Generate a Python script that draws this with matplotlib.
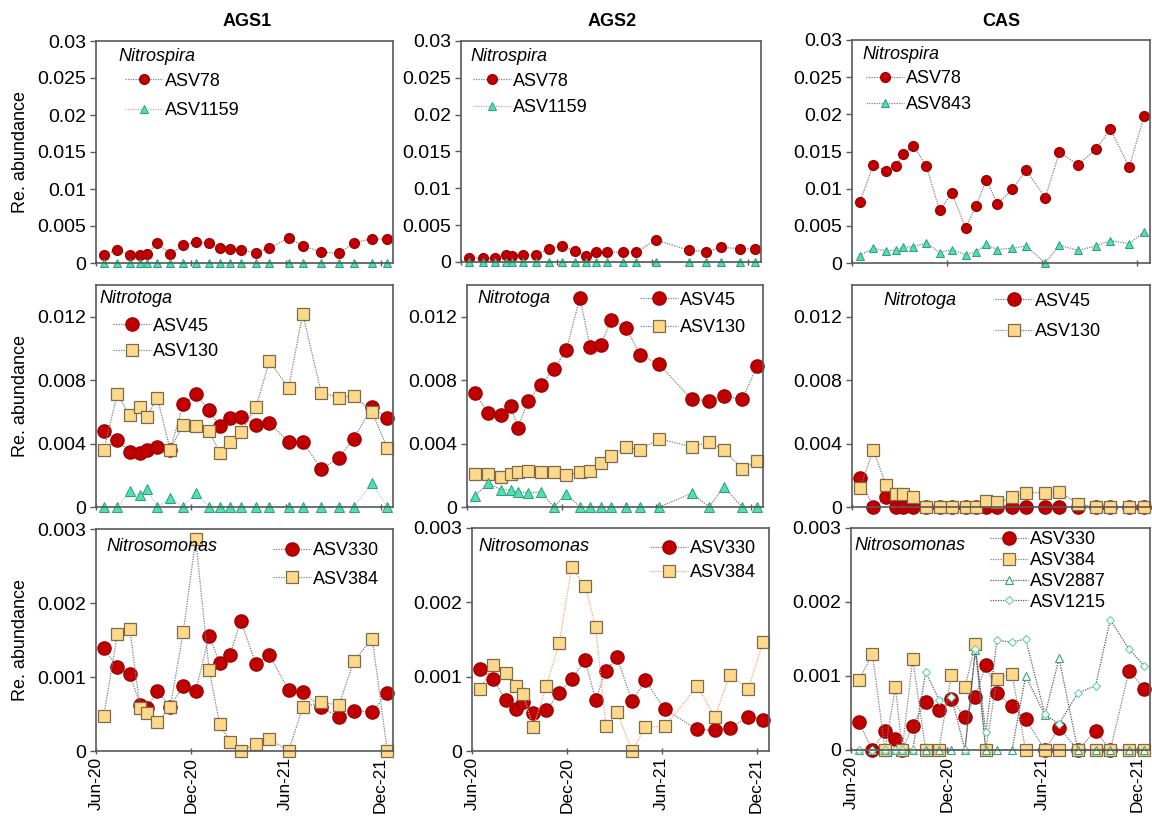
import matplotlib
matplotlib.use('Agg')
import matplotlib.pyplot as plt
import matplotlib.dates as mdates
from matplotlib.ticker import FuncFormatter
import pandas as pd

plt.rcParams['font.family'] = ['Liberation Sans', 'DejaVu Sans']

# sampling dates (AGS2 has no sample on 2021-07-04)
dates = ['2020-06-16', '2020-07-12', '2020-08-05', '2020-08-25', '2020-09-07', '2020-09-27',
         '2020-10-22', '2020-11-16', '2020-12-10', '2021-01-05', '2021-01-25', '2021-02-14',
         '2021-03-07', '2021-04-05', '2021-05-01', '2021-06-07', '2021-07-04', '2021-08-09',
         '2021-09-12', '2021-10-10', '2021-11-15', '2021-12-14']
dates_ags2 = [d for d in dates if d != '2021-07-04']

# ---- AGS1 ----
ags1_asv78 = [0.0011, 0.0018, 0.0011, 0.0011, 0.0012, 0.0027, 0.0012, 0.0024, 0.0028, 0.0027, 0.0020,
              0.0019, 0.0017, 0.0014, 0.0020, 0.0034, 0.0023, 0.0015, 0.0013, 0.0027, 0.0033, 0.0032]
ags1_asv1159 = [0, 0, 0, 0, 0, 0, 0, 0, 0, 0, 0, 0, 0, 0, 0, 0, 0, 0, 0, 0, 0, 0]
ags1_asv45 = [0.0048, 0.0042, 0.0035, 0.0034, 0.0036, 0.0038, 0.0036, 0.0065, 0.0071, 0.0061, 0.0051,
              0.0056, 0.0057, 0.0052, 0.0053, 0.0041, 0.0041, 0.0024, 0.0031, 0.0043, 0.0063, 0.0056]
ags1_asv130 = [0.0036, 0.0071, 0.0058, 0.0063, 0.0057, 0.0069, 0.0036, 0.0052, 0.0051, 0.0048, 0.0034,
               0.0041, 0.0047, 0.0063, 0.0092, 0.0075, 0.0122, 0.0072, 0.0069, 0.0070, 0.0060, 0.0037]
ags1_toga_other = [0, 0, 0.00103, 0.00076, 0.00112, 0, 0.00057, 0, 0.0009, 0, 0,
                   0, 0, 0, 0, 0, 0, 0, 0, 0, 0.0015, 0]
ags1_asv330 = [0.00139, 0.00113, 0.00104, 0.00062, 0.00058, 0.00081, 0.00060, 0.00088, 0.00081, 0.00156, 0.00119,
               0.00130, 0.00176, 0.00117, 0.00130, 0.00082, 0.00080, 0.00059, 0.00046, 0.00054, 0.00053, 0.00078]
ags1_asv384 = [0.00047, 0.00158, 0.00165, 0.00058, 0.00052, 0.00039, 0.00059, 0.00161, 0.00286, 0.00109, 0.00037,
               0.00012, 0, 0.00010, 0.00016, 0, 0.00059, 0.00066, 0.00062, 0.00121, 0.00152, 0]

# ---- AGS2 ----
ags2_asv78 = [0.0006, 0.0005, 0.0006, 0.0010, 0.0008, 0.0009, 0.0010, 0.0018, 0.0022, 0.0015, 0.0008,
              0.0014, 0.0014, 0.0013, 0.0013, 0.0030, 0.0016, 0.0014, 0.0020, 0.0018, 0.0018]
ags2_asv1159 = [0, 0, 0, 0, 0, 0, 0, 0, 0, 0, 0, 0, 0, 0, 0, 0, 0, 0, 0, 0, 0]
ags2_asv45 = [0.0072, 0.0059, 0.0058, 0.0064, 0.0050, 0.0067, 0.0077, 0.0087, 0.0099, 0.0132, 0.0101,
              0.0102, 0.0118, 0.0113, 0.0096, 0.0090, 0.0068, 0.0067, 0.0070, 0.0068, 0.0089]
ags2_asv130 = [0.0021, 0.0021, 0.0019, 0.0021, 0.0022, 0.0023, 0.0022, 0.0022, 0.0020, 0.0022, 0.0023,
               0.0028, 0.0032, 0.0038, 0.0036, 0.0043, 0.0038, 0.0041, 0.0036, 0.0024, 0.0029]
ags2_toga_other = [0.0007, 0.0015, 0.0011, 0.00105, 0.00094, 0.0009, 0.00094, 0, 0.00084, 0, 0,
                   0, 0, 0, 0, 0, 0.00086, 0, 0.00126, 0, 0]
ags2_asv330 = [0.0011, 0.00097, 0.00068, 0.00057, 0.00066, 0.00051, 0.00055, 0.00078, 0.00097, 0.00122, 0.00069,
               0.00108, 0.00127, 0.00067, 0.00095, 0.00056, 0.00029, 0.00028, 0.00031, 0.00046, 0.00042]
ags2_asv384 = [0.00083, 0.00116, 0.00105, 0.00088, 0.00077, 0.00032, 0.00087, 0.00145, 0.00247, 0.00222, 0.00167,
               0.00034, 0.00053, 0, 0.00032, 0.00033, 0.00087, 0.00046, 0.00102, 0.00084, 0.00147]

# ---- CAS ----
cas_asv78 = [0.0082, 0.0132, 0.0124, 0.0131, 0.0147, 0.0158, 0.0130, 0.0071, 0.0094, 0.0047, 0.0077,
             0.0112, 0.0080, 0.0099, 0.0125, 0.0088, 0.0149, 0.0132, 0.0153, 0.0180, 0.0129, 0.0198]
cas_asv843 = [0.0010, 0.0020, 0.0016, 0.0018, 0.0021, 0.0022, 0.0027, 0.0014, 0.0018, 0.0011, 0.0015,
              0.0025, 0.0018, 0.0020, 0.0023, 0, 0.0024, 0.0017, 0.0023, 0.0030, 0.0026, 0.0042]
cas_asv45 = [0.0018, 0, 0.0006, 0, 0, 0, 0, 0, 0, 0, 0, 0, 0, 0, 0, 0, 0, 0, 0, 0, 0, 0]
cas_asv130 = [0.0012, 0.0036, 0.0014, 0.0008, 0.0008, 0.0006, 0, 0, 0, 0, 0,
              0.0004, 0.0003, 0.0006, 0.0009, 0.0009, 0.00095, 0.0002, 0, 0, 0, 0]
cas_asv330 = [0.00038, 0, 0.00026, 0.00015, 0, 0.00033, 0.00065, 0.00054, 0.00069, 0.00044, 0.00072,
              0.00115, 0.00077, 0.00059, 0.00042, 0, 0.0003, 0, 0.00026, 0, 0.00107, 0.00083]
cas_asv384 = [0.00094, 0.0013, 0, 0.00085, 0, 0.00123, 0, 0, 0.00102, 0.00085, 0.00143,
              0, 0.00096, 0.00103, 0, 0, 0, 0, 0, 0, 0, 0]
cas_asv2887 = [0, 0, 0, 0, 0, 0, 0, 0, 0, 0, 0.00135,
               0, 0, 0, 0.0010, 0.00047, 0.00124, 0, 0, 0, 0, 0]
cas_asv1215 = [0, 0, 0, 0, 0, 0, 0.00106, 0.00068, 0.00072, 0, 0.00136,
               0.00024, 0.00148, 0.00146, 0.0015, 0.00048, 0.00035, 0.00077, 0.00087, 0.00176, 0.00136, 0.00114]

GREY = '#7f7f7f'
RED = dict(marker='o', mfc='#c00000', mec='#a00000')
SQ = dict(marker='s', mfc='#ffd98a', mec='#7a6b4e', mew=0.9)
TRI = dict(marker='^', mfc='#4fe0b2', mec='#2a9f7a', mew=0.7)
TRI_OPEN = dict(marker='^', mfc='#f4fbf8', mec='#3aa57e', mew=0.8)
DIA_OPEN = dict(marker='D', mfc='white', mec='#6ccfae', mew=0.8)
DOT = (0, (1, 1))

fig = plt.figure(figsize=(11.52, 8.27), dpi=100)
W, H = 1152, 827


def make_ax(left, top, right, bottom):
    return fig.add_axes([left / W, 1 - bottom / H, (right - left) / W, (bottom - top) / H])


boxes = [
    [(96, 41, 393, 263), (461, 41, 761, 262), (852, 40, 1150, 263)],
    [(96, 285, 393, 507), (467, 285, 763, 507), (852, 285, 1150, 507)],
    [(96, 529, 393, 751), (472, 528, 769, 751), (851, 528, 1150, 750)],
]
axes = [[make_ax(*b) for b in row] for row in boxes]

xmin, xmax = pd.Timestamp('2020-06-01'), pd.Timestamp('2021-12-25')
xticks = pd.to_datetime(['2020-06-01', '2020-12-01', '2021-06-01', '2021-12-01'])
ylims = [(0, 0.03), (0, 0.014), (0, 0.003)]
yticks = [[0, 0.005, 0.01, 0.015, 0.02, 0.025, 0.03],
          [0, 0.004, 0.008, 0.012],
          [0, 0.001, 0.002, 0.003]]

for r in range(3):
    for c in range(3):
        ax = axes[r][c]
        ax.set_xlim(xmin, xmax)
        ax.set_ylim(*ylims[r])
        ax.set_yticks(yticks[r])
        ax.yaxis.set_major_formatter(FuncFormatter(lambda v, p: '{:g}'.format(v)))
        ax.set_xticks(xticks)
        ax.xaxis.set_major_formatter(mdates.DateFormatter('%b-%y'))
        ax.tick_params(axis='y', labelsize=14, length=4, width=1, color='#595959', pad=3)
        ax.tick_params(axis='x', labelsize=12.5, length=5, width=1, color='#595959',
                       direction='inout', rotation=90, pad=2)
        if r < 2:
            ax.tick_params(axis='x', labelbottom=False)
        for s in ax.spines.values():
            s.set_color('#595959')
            s.set_linewidth(1.2)
        if c == 0:
            ax.set_ylabel('Re. abundance', fontsize=13)
            ax.yaxis.set_label_coords(-0.224, 0.5)


def series(ax, x, y, style, ms, label=None, color=GREY):
    ax.plot(pd.to_datetime(x), y, linestyle=DOT, color=color, lw=0.9, ms=ms,
            label=label, clip_on=False, **style)


def legend(ax, x, y, spacing=0.35):
    ax.legend(loc='upper left', bbox_to_anchor=(x, y), frameon=False, fontsize=13,
              borderpad=0, borderaxespad=0, handlelength=2.1, handletextpad=0.1,
              labelspacing=spacing)


def genus(ax, name, x, y):
    ax.text(x, y, name, transform=ax.transAxes, fontsize=13, style='italic', va='center', ha='left')


# Row 1: Nitrospira
ax = axes[0][0]
series(ax, dates, ags1_asv78, RED, 7, 'ASV78')
series(ax, dates, ags1_asv1159, TRI, 6, 'ASV1159', color='#b0b0b0')
genus(ax, 'Nitrospira', 0.074, 0.928)
legend(ax, 0.098, 0.857, 0.68)

ax = axes[0][1]
series(ax, dates_ags2, ags2_asv78, RED, 7, 'ASV78')
series(ax, dates_ags2, ags2_asv1159, TRI, 6, 'ASV1159', color='#b0b0b0')
genus(ax, 'Nitrospira', 0.033, 0.928)
legend(ax, 0.04, 0.857, 0.52)

ax = axes[0][2]
series(ax, dates, cas_asv78, RED, 7, 'ASV78')
series(ax, dates, cas_asv843, TRI, 6, 'ASV843')
genus(ax, 'Nitrospira', 0.034, 0.933)
legend(ax, 0.047, 0.866, 0.52)

# Row 2: Nitrotoga
ax = axes[1][0]
series(ax, dates, ags1_asv45, RED, 9.5, 'ASV45')
series(ax, dates, ags1_asv130, SQ, 8, 'ASV130')
series(ax, dates, ags1_toga_other, TRI, 7, color='#c8c8c8')
genus(ax, 'Nitrotoga', 0.013, 0.941)
legend(ax, 0.057, 0.853, 0.46)

ax = axes[1][1]
series(ax, dates_ags2, ags2_asv45, RED, 9.5, 'ASV45')
series(ax, dates_ags2, ags2_asv130, SQ, 8, 'ASV130')
series(ax, dates_ags2, ags2_toga_other, TRI, 7)
genus(ax, 'Nitrotoga', 0.034, 0.937)
legend(ax, 0.584, 0.97, 0.57)

ax = axes[1][2]
series(ax, dates, cas_asv45, RED, 9.5, 'ASV45')
series(ax, dates, cas_asv130, SQ, 8, 'ASV130')
genus(ax, 'Nitrotoga', 0.107, 0.932)
legend(ax, 0.48, 0.965, 0.74)

# Row 3: Nitrosomonas
ax = axes[2][0]
series(ax, dates, ags1_asv330, RED, 9.5, 'ASV330')
series(ax, dates, ags1_asv384, SQ, 8, 'ASV384')
genus(ax, 'Nitrosomonas', 0.034, 0.923)
legend(ax, 0.596, 0.94, 0.63)

ax = axes[2][1]
series(ax, dates_ags2, ags2_asv330, RED, 9.5, 'ASV330')
series(ax, dates_ags2, ags2_asv384, SQ, 8, 'ASV384', color='#f4a27a')
genus(ax, 'Nitrosomonas', 0.02, 0.919)
legend(ax, 0.599, 0.945, 0.4)

ax = axes[2][2]
series(ax, dates, cas_asv330, RED, 9.5, 'ASV330')
series(ax, dates, cas_asv384, SQ, 8, 'ASV384')
series(ax, dates, cas_asv2887, TRI_OPEN, 5.5, 'ASV2887', color='#5a5a5a')
series(ax, dates, cas_asv1215, DIA_OPEN, 4.5, 'ASV1215', color='#5a5a5a')
genus(ax, 'Nitrosomonas', 0.013, 0.923)
legend(ax, 0.465, 0.985, 0.21)

# column headers
for x, name in [(247, 'AGS1'), (612, 'AGS2'), (1001, 'CAS')]:
    fig.text(x / W, 1 - 22 / H, name, fontsize=13, fontweight='bold', ha='center', va='center')

fig.savefig('out.png', dpi=100)
